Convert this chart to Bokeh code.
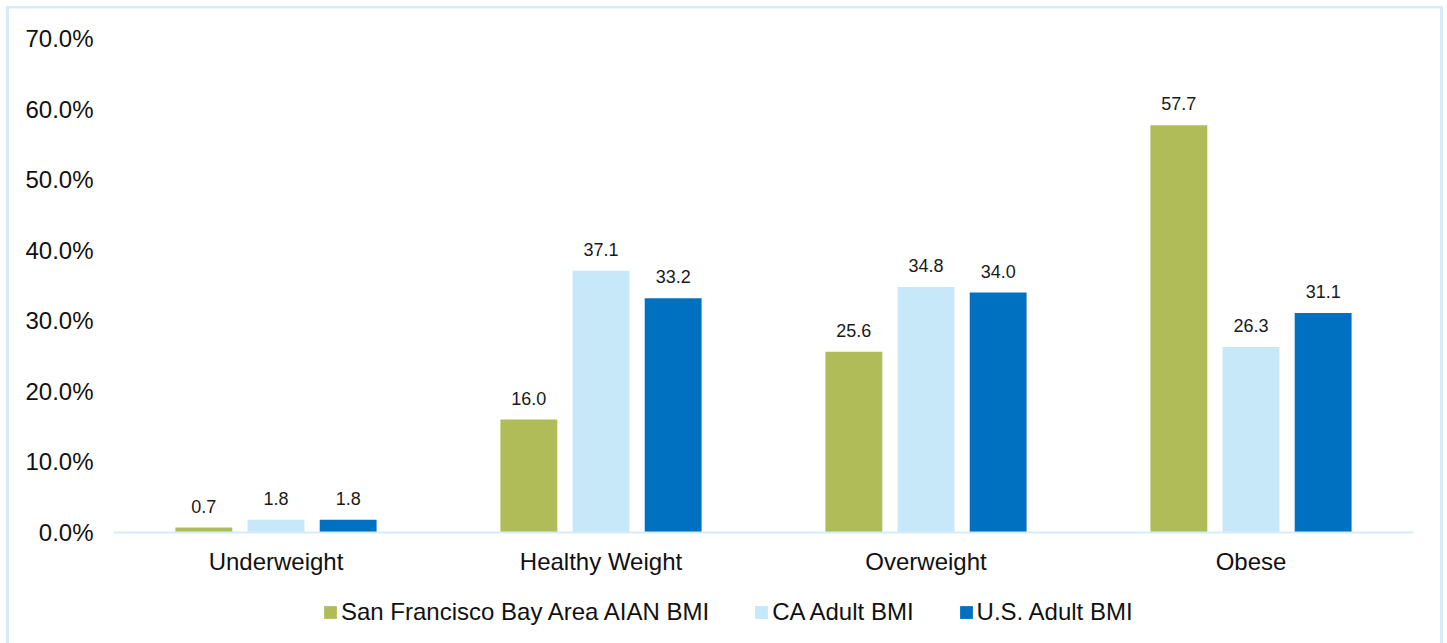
from bokeh.plotting import figure
from bokeh.models import (ColumnDataSource, FactorRange, Range1d, LabelSet, Legend,
                          LegendItem, PrintfTickFormatter)
from bokeh.core.properties import value
from bokeh.transform import dodge
from bokeh.embed import file_html
from bokeh.resources import INLINE

categories = ["Underweight", "Healthy Weight", "Overweight", "Obese"]
series_names = ["San Francisco Bay Area AIAN BMI", "CA Adult BMI", "U.S. Adult BMI"]
sf_aian = [0.7, 16.0, 25.6, 57.7]
ca_adult = [1.8, 37.1, 34.8, 26.3]
us_adult = [1.8, 33.2, 34.0, 31.1]
y_ticks = [0, 10, 20, 30, 40, 50, 60, 70]

colors = ["#afbc58", "#c6e8f9", "#0070c0"]
offsets = [-0.222, 0.0, 0.222]
bar_width = 0.175
FONT = "Liberation Sans"
BORDER = "#d6ebfa"

# plot geometry: the value axis runs 0..70 over 494 px, and the frame is
# extended 111 px below zero to leave room for category labels and legend
PLOT_H = 494
BELOW = 111
y_max = 70
y_min = -y_max * BELOW / PLOT_H

source = ColumnDataSource(dict(
    cat=categories,
    s0=sf_aian, s1=ca_adult, s2=us_adult,
    l0=[f"{v:.1f}" for v in sf_aian],
    l1=[f"{v:.1f}" for v in ca_adult],
    l2=[f"{v:.1f}" for v in us_adult],
))

p = figure(
    width=1447, height=643,
    x_range=FactorRange(*categories, range_padding=0),
    y_range=Range1d(y_min, y_max),
    output_backend="svg", toolbar_location=None,
    min_border_left=113, min_border_right=34,
    min_border_top=38, min_border_bottom=0,
)
p.background_fill_color = "white"
p.border_fill_color = None
p.outline_line_color = None
p.xgrid.grid_line_color = None
p.ygrid.grid_line_color = None

# thin light-blue frame around the chart (left, top and right edges)
grad = f"linear-gradient({BORDER}, {BORDER})"
p.styles = {
    "background": (
        f"{grad} 6px 6px / 3px 100% no-repeat, "
        f"{grad} 6px 6px / 1437px 2.5px no-repeat, "
        f"{grad} 1440px 6px / 3px 100% no-repeat, #ffffff"
    )
}

renderers = []
for i in range(3):
    r = p.vbar(x=dodge("cat", offsets[i], range=p.x_range), top=f"s{i}",
               width=bar_width, source=source, fill_color=colors[i],
               line_color=None)
    renderers.append(r)
    labels = LabelSet(x=dodge("cat", offsets[i], range=p.x_range), y=f"s{i}",
                      text=f"l{i}", source=source, text_align="center",
                      text_baseline="alphabetic", y_offset=15,
                      text_font=value(FONT), text_font_size="18px",
                      text_color="#1a1a1a")
    p.add_layout(labels)

# y axis
p.yaxis.ticker = y_ticks
p.yaxis.formatter = PrintfTickFormatter(format="%.1f%%")
p.yaxis.axis_line_color = None
p.yaxis.major_tick_line_color = None
p.yaxis.minor_tick_line_color = None
p.yaxis.major_label_standoff = 14
p.yaxis.major_label_text_font = FONT
p.yaxis.major_label_text_font_size = "24px"
p.yaxis.major_label_text_color = "#111111"

# x axis sits on the zero line
p.xaxis.fixed_location = 0
p.xaxis.axis_line_color = BORDER
p.xaxis.axis_line_width = 2
p.xaxis.major_tick_line_color = None
p.xaxis.minor_tick_line_color = None
p.xaxis.major_label_standoff = 9
p.xaxis.major_label_text_font = FONT
p.xaxis.major_label_text_font_size = "24px"
p.xaxis.major_label_text_color = "#111111"

legend = Legend(
    items=[LegendItem(label=series_names[i], renderers=[renderers[i]]) for i in range(3)],
    orientation="horizontal", location=(209, 17),
    glyph_width=16, glyph_height=16, label_standoff=3, spacing=44,
    padding=0, margin=0, border_line_color=None, background_fill_alpha=0,
    label_text_font=FONT, label_text_font_size="24px", label_text_color="#111111",
    label_height=24,
)
p.add_layout(legend)

open("out.html", "w").write(file_html(p, INLINE))
